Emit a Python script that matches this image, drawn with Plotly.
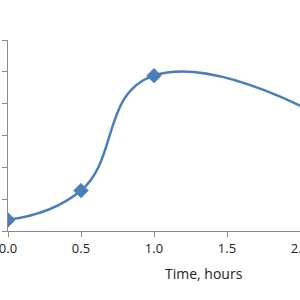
import plotly.graph_objects as go

time_hours = [0.0, 0.5, 1.0, 3.0]
values = [0.35, 1.27, 4.88, 1.3]
x_ticks = [0.0, 0.5, 1.0, 1.5, 2.0]
x_tick_labels = ["0.0", "0.5", "1.0", "1.5", "2.0"]
y_ticks = [0, 1, 2, 3, 4, 5, 6]

blue = "#4a7ebb"
axis_gray = "#898989"

fig = go.Figure()
fig.add_trace(go.Scatter(
    x=time_hours, y=values,
    mode="lines+markers",
    line=dict(color=blue, width=2.5, shape="spline", smoothing=1.3),
    marker=dict(symbol="diamond", size=11, color=blue, line=dict(color=blue, width=1)),
    showlegend=False,
))

fig.update_layout(
    width=300, height=300,
    margin=dict(l=8, r=0, t=40, b=69),
    paper_bgcolor="white", plot_bgcolor="white",
    font=dict(family="Open Sans", size=13, color="#222222"),
    xaxis=dict(
        range=[0, 2.0], tickvals=x_ticks, ticktext=x_tick_labels,
        showline=True, linecolor=axis_gray, linewidth=1,
        ticks="outside", ticklen=5, tickcolor=axis_gray,
        showgrid=False, zeroline=False, automargin=False,
        ticklabeloverflow="allow",
        tickfont=dict(size=13),
    ),
    yaxis=dict(
        range=[0, 6], tickvals=y_ticks,
        showline=True, linecolor=axis_gray, linewidth=1,
        ticks="outside", ticklen=5, tickcolor=axis_gray,
        showgrid=False, zeroline=False, automargin=False,
        showticklabels=False,
    ),
    annotations=[dict(
        text="Time, hours", xref="paper", yref="paper",
        x=0.671, y=-0.225, xanchor="center", yanchor="middle",
        showarrow=False, font=dict(size=14, color="#222222"),
    )],
)

fig.write_html("out.html")
